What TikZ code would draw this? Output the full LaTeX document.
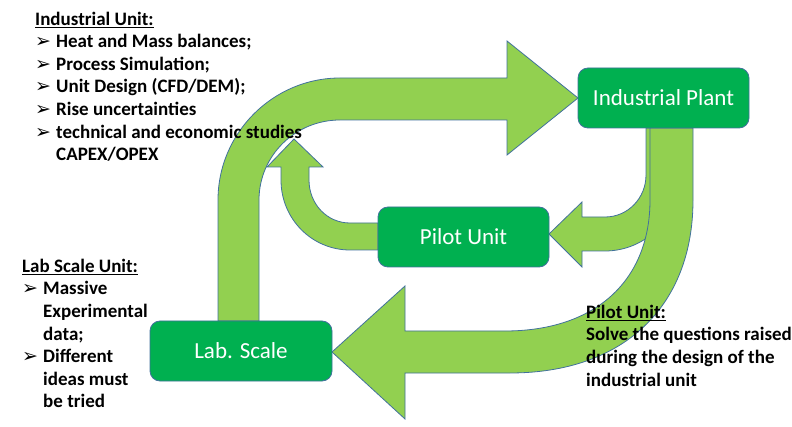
\documentclass[tikz,border=0pt]{standalone}
\usepackage{fontspec}
\setmainfont{Carlito}
\newfontfamily\dingfont{DejaVu Sans}
\usetikzlibrary{positioning}
\definecolor{arrowgreen}{HTML}{92D050}
\definecolor{boxgreen}{HTML}{00B050}
\definecolor{edgeblue}{HTML}{41719C}
\newcommand{\bul}{\makebox[21pt][l]{\dingfont\fontsize{19}{19}\selectfont ➢}}
\newcommand{\ind}{\hspace*{21pt}}
\newcommand{\firstline}{\rule{0pt}{16pt}}
\tikzset{
  stage/.style={rectangle, rounded corners=10pt, fill=boxgreen, draw=edgeblue, line width=0.8pt,
    text=white, minimum height=60pt, inner sep=0pt, font=\fontsize{23}{27}\selectfont},
  blockarrow/.style={fill=arrowgreen, draw=edgeblue, line width=0.8pt, line join=miter},
  note/.style={align=left, inner sep=0pt, anchor=north west, font=\bfseries\fontsize{19}{22.6}\selectfont}
}
\begin{document}
\begin{tikzpicture}[x=1pt,y=-1pt]
\useasboundingbox (0,0) rectangle (792,427);
\coordinate (plantin) at (578,98);
\coordinate (pilotin) at (549,234);
\coordinate (ret) at (294,139);
\coordinate (labin) at (332,352);

\draw[blockarrow] (646,128) -- (646,175) .. controls (646,198) and (628,217) .. (605,217)
  -- (582,217) -- (582,202) -- (pilotin) -- (582,267) -- (582,251) -- (605,251)
  .. controls (646,251) and (680,217) .. (680,175) -- (680,128) -- cycle;
\draw[blockarrow] (378,223) -- (350,223) .. controls (327,223) and (309,204) .. (309,180)
  -- (309,167) -- (323,167) -- (ret) -- (267,167) -- (281,167) -- (281,180)
  .. controls (281,219) and (312,250) .. (350,250) -- (378,250) -- cycle;
\draw[blockarrow] (218,321) -- (218,200) .. controls (218,133) and (273,78) .. (340,78)
  -- (507,78) -- (507,41) -- (plantin) -- (507,155) -- (507,120) -- (340,120)
  .. controls (295,120) and (259,156) .. (259,200) -- (259,321) -- cycle;
\draw[blockarrow] (650,128) -- (650,200) .. controls (650,281) and (595,331) .. (505,331)
  -- (405,331) -- (405,286) -- (labin) -- (405,419) -- (405,373) -- (510,373)
  .. controls (623,373) and (693,307) .. (693,200) -- (693,128) -- cycle;

\node[stage, minimum width=171pt] (plant) at (663.5,98) {Industrial Plant};
\node[stage, minimum width=171pt] (pilot) at (463.5,237) {Pilot Unit};
\node[stage, minimum width=182pt] (lab) at (241,351) {Lab. Scale};

\node[note] (industrialnote) at (35,9) {\firstline\underline{Industrial Unit:}\\
  \bul Heat and Mass balances;\\
  \bul Process Simulation;\\
  \bul Unit Design (CFD/DEM);\\
  \bul Rise uncertainties\\
  \bul technical and economic studies\\
  \ind CAPEX/OPEX};
\node[note] (labnote) at (22,256) {\firstline\underline{Lab Scale Unit:}\\
  \bul Massive\\
  \ind Experimental\\
  \ind data;\\
  \bul Different\\
  \ind ideas must\\
  \ind be tried};
\node[note] (pilotnote) at (586,302) {\firstline\underline{Pilot Unit:}\\
  Solve the questions raised\\
  during the design of the\\
  industrial unit};
\end{tikzpicture}
\end{document}
